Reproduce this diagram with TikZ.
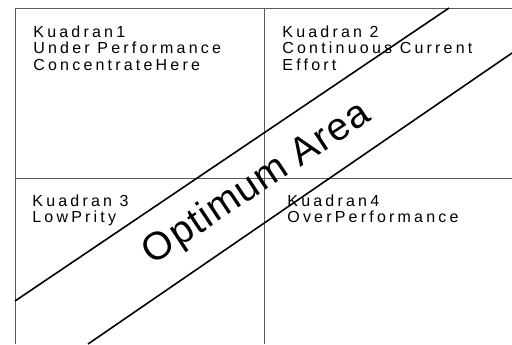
\documentclass[tikz,border=0pt]{standalone}
\usepackage{fontspec}
\setmainfont{Liberation Sans}
\tikzstyle{frame}=[draw=black!65,line width=0.5pt]
\tikzstyle{band}=[draw=black,line width=0.8pt]
\tikzstyle{quad}=[anchor=north west,inner sep=0pt,align=left,font=\fontsize{8}{8.25}\selectfont\addfontfeature{LetterSpace=20}]
\tikzstyle{big}=[inner sep=0pt,font=\fontsize{19.5}{19.5}\selectfont\addfontfeature{LetterSpace=3}]

\begin{document}
\begin{tikzpicture}[x=0.5pt,y=-0.5pt]
		\useasboundingbox (0,0) rectangle (512,344);
		\coordinate (tl) at (15,8);
		\coordinate (tr) at (512,8);
		\coordinate (bl) at (15,344);
		\coordinate (mt) at (264,8);
		\coordinate (mb) at (264,344);
		\coordinate (ml) at (15,178);
		\coordinate (mr) at (512,178);
		
		% the four quadrants
		\draw[frame] (tr) -- (tl) -- (bl);
		\draw[frame] (mt) -- (mb);
		\draw[frame] (ml) -- (mr);
		
		\node (q1) at (33,25) [quad] {Kuadran1\\Under Performance\\ConcentrateHere};
		\node (q2) at (282,25) [quad] {Kuadran 2\\Continuous Current\\Effort};
		\node (q3) at (32,194) [quad] {Kuadran 3\\LowPrity};
		\node (q4) at (287,194) [quad] {Kuadran4\\OverPerformance};
		
		% diagonal band
		\coordinate (a1) at (15,301);
		\coordinate (a2) at (449,8);
		\coordinate (b1) at (88,344);
		\coordinate (b2) at (512,53);
		\draw[band] (a1) -- (a2);
		\draw[band] (b1) -- (b2);
		
		\node (opt) at (257,184) [big,rotate=33.5] {Optimum Area};
	\end{tikzpicture}
\end{document}
